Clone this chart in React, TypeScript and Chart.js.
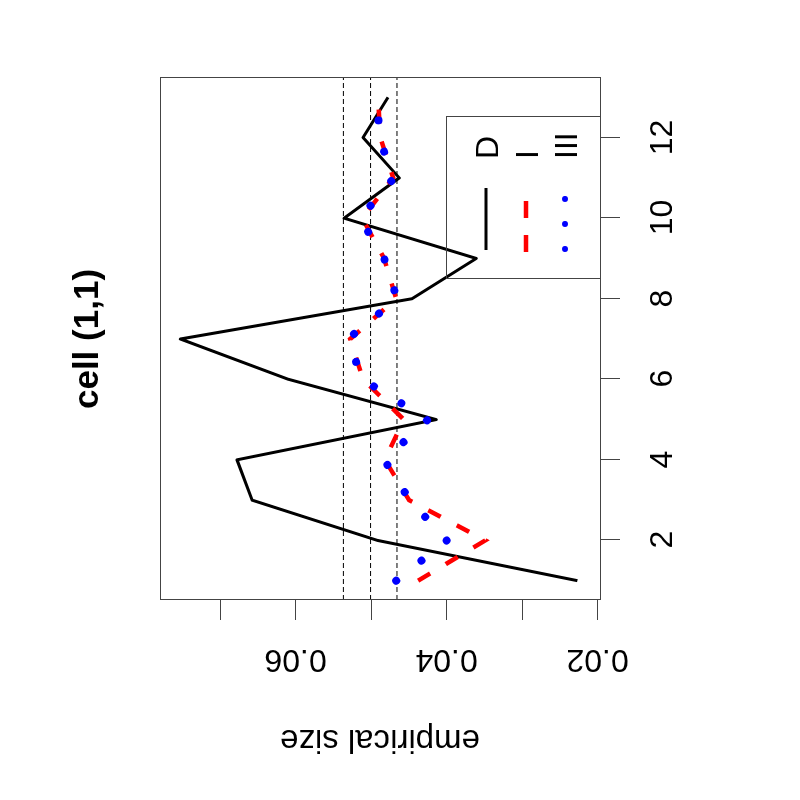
import React, { useEffect, useRef } from "react";
import { Chart, registerables } from "chart.js";
Chart.register(...registerables);

// ---- data ----
const xValues = [1, 2, 3, 4, 5, 6, 7, 8, 9, 10, 11, 12, 13];
const seriesD = [0.0226, 0.0491, 0.0657, 0.0677, 0.0413, 0.0609, 0.0752, 0.0445, 0.036, 0.0535, 0.0462, 0.051, 0.0477];
const seriesI = [0.0437, 0.0348, 0.0449, 0.0481, 0.0456, 0.051, 0.0527, 0.0466, 0.0482, 0.0511, 0.047, 0.0487, 0.049];
const seriesIII = [0.0466, 0.0399, 0.0448, 0.0482, 0.0424, 0.0511, 0.053, 0.0465, 0.0482, 0.0514, 0.0469, 0.0489, 0.049];
const refLines = [0.0465, 0.05, 0.0536];
const xTicks = [2, 4, 6, 8, 10, 12];
const yTicks = [0.02, 0.03, 0.04, 0.05, 0.06, 0.07];
const yTickLabels = ["0.02", "", "0.04", "", "0.06", ""];
const legendLabels = ["D", "I", "III"];
const titleText = "cell (1,1)";
const yAxisTitle = "empirical size";

const X_MIN = 0.52;
const X_MAX = 13.48;
const Y_MIN = 0.0196;
const Y_MAX = 0.0779;

const FONT = '"Liberation Sans", Arial, Helvetica, sans-serif';
const AXIS_COLOR = "#444";

const rPlot = {
  id: "rPlot",
  beforeDraw(chart: any) {
    const ctx = chart.ctx;
    ctx.save();
    ctx.fillStyle = "#fff";
    ctx.fillRect(0, 0, chart.width, chart.height);
    ctx.restore();
  },
  afterDraw(chart: any) {
    const ctx = chart.ctx;
    const a = chart.chartArea;
    const xs = chart.scales.x;
    const ys = chart.scales.y;
    ctx.save();
    // box
    ctx.strokeStyle = AXIS_COLOR;
    ctx.lineWidth = 1;
    ctx.setLineDash([]);
    ctx.strokeRect(a.left + 0.5, a.top + 0.5, a.right - a.left, a.bottom - a.top);

    // x axis ticks and labels
    ctx.fillStyle = "#000";
    ctx.font = `32px ${FONT}`;
    ctx.textAlign = "center";
    ctx.textBaseline = "alphabetic";
    xTicks.forEach((v) => {
      const px = Math.round(xs.getPixelForValue(v)) + 0.5;
      ctx.beginPath();
      ctx.moveTo(px, a.bottom);
      ctx.lineTo(px, a.bottom + 20);
      ctx.stroke();
      ctx.fillText(String(v), px, a.bottom + 72);
    });

    // y axis ticks and labels
    yTicks.forEach((v, i) => {
      const py = Math.round(ys.getPixelForValue(v)) + 0.5;
      ctx.beginPath();
      ctx.moveTo(a.left - 20, py);
      ctx.lineTo(a.left, py);
      ctx.stroke();
      const lab = yTickLabels[i];
      if (lab) {
        ctx.save();
        ctx.translate(a.left - 50, py);
        ctx.rotate(-Math.PI / 2);
        ctx.fillText(lab, 0, 0);
        ctx.restore();
      }
    });

    // y axis title
    ctx.save();
    ctx.translate(70, (a.top + a.bottom) / 2);
    ctx.rotate(-Math.PI / 2);
    ctx.font = `33px ${FONT}`;
    ctx.fillText(yAxisTitle, 0, 0);
    ctx.restore();

    // title
    ctx.font = `bold 35px ${FONT}`;
    ctx.fillText(titleText, (a.left + a.right) / 2, 98);

    // legend
    ctx.strokeStyle = AXIS_COLOR;
    ctx.lineWidth = 1;
    ctx.strokeRect(521.5, 446.5, 162, 154);
    const rows = [486, 526, 565];
    // D
    ctx.strokeStyle = "#000";
    ctx.lineWidth = 3;
    ctx.lineCap = "butt";
    ctx.setLineDash([]);
    ctx.beginPath();
    ctx.moveTo(550, rows[0]);
    ctx.lineTo(612, rows[0]);
    ctx.stroke();
    // I
    ctx.strokeStyle = "#ff0000";
    ctx.lineWidth = 4.5;
    ctx.setLineDash([17, 17]);
    ctx.beginPath();
    ctx.moveTo(548, rows[1]);
    ctx.lineTo(614, rows[1]);
    ctx.stroke();
    // III
    ctx.strokeStyle = "#0000ff";
    ctx.lineWidth = 6;
    ctx.lineCap = "round";
    ctx.setLineDash([0.01, 25]);
    ctx.beginPath();
    ctx.moveTo(551, rows[2]);
    ctx.lineTo(612, rows[2]);
    ctx.stroke();
    ctx.setLineDash([]);
    ctx.fillStyle = "#000";
    ctx.font = `32px ${FONT}`;
    ctx.textAlign = "left";
    legendLabels.forEach((t, i) => {
      ctx.fillText(t, 641, rows[i] + 12);
    });
    ctx.restore();
  },
};

const pts = (ys: number[]) => xValues.map((x, i) => ({ x, y: ys[i] }));

export default function App() {
  const ref = useRef<HTMLCanvasElement>(null);
  useEffect(() => {
    const canvas = ref.current!;
    const refSets = refLines.map((h) => ({
      label: "ref",
      data: [
        { x: X_MIN, y: h },
        { x: X_MAX, y: h },
      ],
      borderColor: "#000",
      borderWidth: 1,
      borderDash: [5, 3],
      pointRadius: 0,
      order: 5,
    }));
    const chart = new Chart(canvas, {
      type: "line",
      data: {
        datasets: [
          ...refSets,
          {
            label: legendLabels[0],
            data: pts(seriesD),
            borderColor: "#000",
            borderWidth: 3,
            borderJoinStyle: "round",
            pointRadius: 0,
            tension: 0,
            order: 4,
          },
          {
            label: legendLabels[1],
            data: pts(seriesI),
            borderColor: "#ff0000",
            borderWidth: 4.5,
            borderDash: [14, 18.2],
            borderCapStyle: "butt",
            pointRadius: 0,
            tension: 0,
            order: 3,
          },
          {
            label: legendLabels[2],
            data: pts(seriesIII),
            borderColor: "#0000ff",
            borderWidth: 8,
            borderDash: [0.01, 32.2],
            borderCapStyle: "round",
            pointRadius: 0,
            tension: 0,
            order: 2,
          },
        ] as any,
      },
      options: {
        animation: false,
        responsive: false,
        devicePixelRatio: 1,
        layout: { padding: { left: 200, right: 78, top: 160, bottom: 200 } },
        scales: {
          x: { type: "linear", min: X_MIN, max: X_MAX, display: false },
          y: { type: "linear", min: Y_MIN, max: Y_MAX, display: false },
        },
        plugins: { legend: { display: false }, tooltip: { enabled: false } },
      } as any,
      plugins: [rPlot],
    });
    return () => chart.destroy();
  }, []);
  return (
    <div
      style={{
        position: "fixed",
        left: 0,
        top: 0,
        width: 800,
        height: 800,
        transform: "rotate(-90deg)",
        transformOrigin: "400px 400px",
        background: "#fff",
      }}
    >
      <canvas ref={ref} width={800} height={800} style={{ display: "block" }} />
    </div>
  );
}
